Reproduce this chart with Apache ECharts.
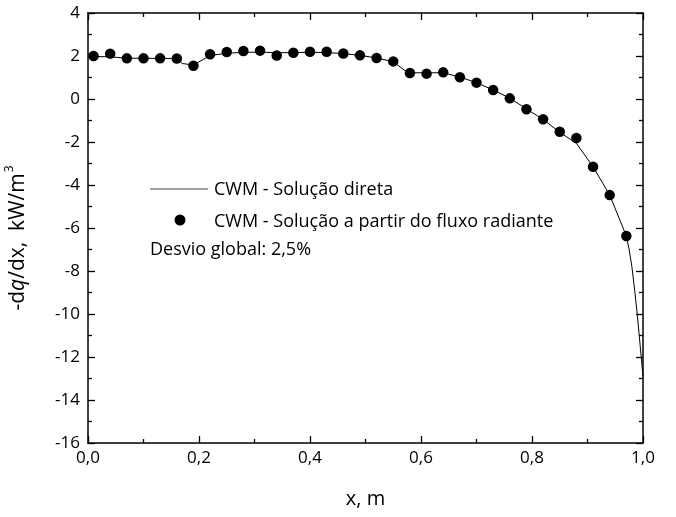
<!DOCTYPE html>
<html>
<head>
<meta charset="utf-8">
<script src="https://cdn.jsdelivr.net/npm/echarts@6/dist/echarts.min.js"></script>
<style>html,body{margin:0;padding:0;background:#fff}#c{width:676px;height:517px}</style>
</head>
<body>
<div id="c"></div>
<script>
// Points: CWM - solução a partir do fluxo radiante
var pointX = [0.01,0.04,0.07,0.10,0.13,0.16,0.19,0.22,0.25,0.28,0.31,0.34,0.37,0.40,0.43,0.46,0.49,0.52,0.55,0.58,0.61,0.64,0.67,0.70,0.73,0.76,0.79,0.82,0.85,0.88,0.91,0.94,0.97];
var pointY = [2.00,2.11,1.89,1.89,1.89,1.88,1.55,2.08,2.19,2.23,2.25,2.02,2.15,2.20,2.20,2.12,2.03,1.91,1.75,1.21,1.18,1.24,1.01,0.76,0.42,0.03,-0.48,-0.94,-1.52,-1.81,-3.15,-4.47,-6.37];
// Line: CWM - solução direta
var lineX = [0.00,0.01,0.04,0.07,0.10,0.13,0.16,0.17,0.19,0.22,0.25,0.28,0.31,0.34,0.37,0.40,0.43,0.46,0.49,0.52,0.55,0.575,0.58,0.61,0.64,0.67,0.70,0.73,0.76,0.79,0.82,0.85,0.88,0.91,0.94,0.97,0.975,0.98,0.985,0.99,0.995,1.00];
var lineY = [1.98,1.98,1.96,1.90,1.89,1.89,1.88,1.65,1.58,2.02,2.13,2.17,2.18,2.15,2.16,2.17,2.16,2.11,2.03,1.91,1.73,1.25,1.22,1.22,1.22,1.02,0.76,0.42,0.04,-0.46,-0.95,-1.55,-2.06,-3.15,-4.47,-6.37,-7.0,-7.8,-8.9,-10.1,-11.5,-12.9];
var xTicks = {min:0, max:1, interval:0.2};
var yTicks = {min:-16, max:4, interval:2};
var nameLine = 'CWM - Solução direta';
var namePts = 'CWM - Solução a partir do fluxo radiante';
var note = 'Desvio global: 2,5%';

var FONT = 'Open Sans';
function zip(a,b){return a.map(function(v,i){return [v,b[i]];});}
function fmt(v){return v.toFixed(1).replace('.', ',');}
var tickCommon = {show:true, inside:true, length:7, lineStyle:{color:'#000', width:1.3}};
var minorCommon = {show:true, splitNumber:2, length:4, lineStyle:{color:'#000', width:1.3}};
var lineCommon = {show:true, onZero:false, lineStyle:{color:'#000', width:1.5}};
var chart = echarts.init(document.getElementById('c'));
chart.setOption({
  animation:false,
  grid:{left:88, right:33, top:13, bottom:74, containLabel:false, outerBoundsMode:'none'},
  xAxis:[{
    type:'value', min:xTicks.min, max:xTicks.max, interval:xTicks.interval, position:'bottom',
    axisLine:lineCommon, axisTick:tickCommon, minorTick:minorCommon, splitLine:{show:false},
    axisLabel:{formatter:fmt, color:'#000', fontFamily:FONT, fontSize:17, margin:7},
    name:'x, m', nameLocation:'middle', nameGap:46, nameTextStyle:{color:'#000', fontFamily:FONT, fontSize:20}
  },{
    type:'value', min:xTicks.min, max:xTicks.max, interval:xTicks.interval, position:'top',
    axisLine:lineCommon, axisTick:tickCommon, minorTick:minorCommon, splitLine:{show:false},
    axisLabel:{show:false}
  }],
  yAxis:[{
    type:'value', min:yTicks.min, max:yTicks.max, interval:yTicks.interval, position:'left',
    axisLine:lineCommon, axisTick:tickCommon, minorTick:minorCommon, splitLine:{show:false},
    axisLabel:{color:'#000', fontFamily:FONT, fontSize:17, margin:8},
    name:'{a|-d}{i|q}{a|/dx,  kW/m}{s|3}', nameLocation:'middle', nameGap:56,
    nameTextStyle:{color:'#000', fontFamily:FONT, fontSize:21, padding:[0,20,0,0], rich:{
      a:{fontFamily:FONT, fontSize:21, color:'#000'},
      i:{fontFamily:FONT, fontSize:21, fontStyle:'italic', color:'#000'},
      s:{fontFamily:FONT, fontSize:12, color:'#000', verticalAlign:'top', padding:[0,0,16,1]}
    }}
  },{
    type:'value', min:yTicks.min, max:yTicks.max, interval:yTicks.interval, position:'right',
    axisLine:lineCommon, axisTick:tickCommon, minorTick:minorCommon, splitLine:{show:false},
    axisLabel:{show:false}
  }],
  graphic:[
    {type:'line', shape:{x1:150, y1:189, x2:208, y2:189}, style:{stroke:'#444', lineWidth:1.2}},
    {type:'text', x:214, y:190, style:{text:nameLine, fill:'#000', font:'18px "'+FONT+'"', textVerticalAlign:'middle'}},
    {type:'circle', shape:{cx:180, cy:220, r:5.5}, style:{fill:'#000'}},
    {type:'text', x:214, y:222, style:{text:namePts, fill:'#000', font:'18px "'+FONT+'"', textVerticalAlign:'middle'}},
    {type:'text', x:150, y:250, style:{text:note, fill:'#000', font:'18px "'+FONT+'"', textVerticalAlign:'middle'}}
  ],
  series:[{
    name:nameLine, type:'line', data:zip(lineX,lineY), showSymbol:false, symbol:'none',
    lineStyle:{color:'#000', width:1}, itemStyle:{color:'#000'}, z:2
  },{
    name:namePts, type:'scatter', data:zip(pointX,pointY), symbol:'circle', symbolSize:10.5,
    itemStyle:{color:'#000', opacity:1}, z:3
  }]
});
</script>
</body>
</html>
